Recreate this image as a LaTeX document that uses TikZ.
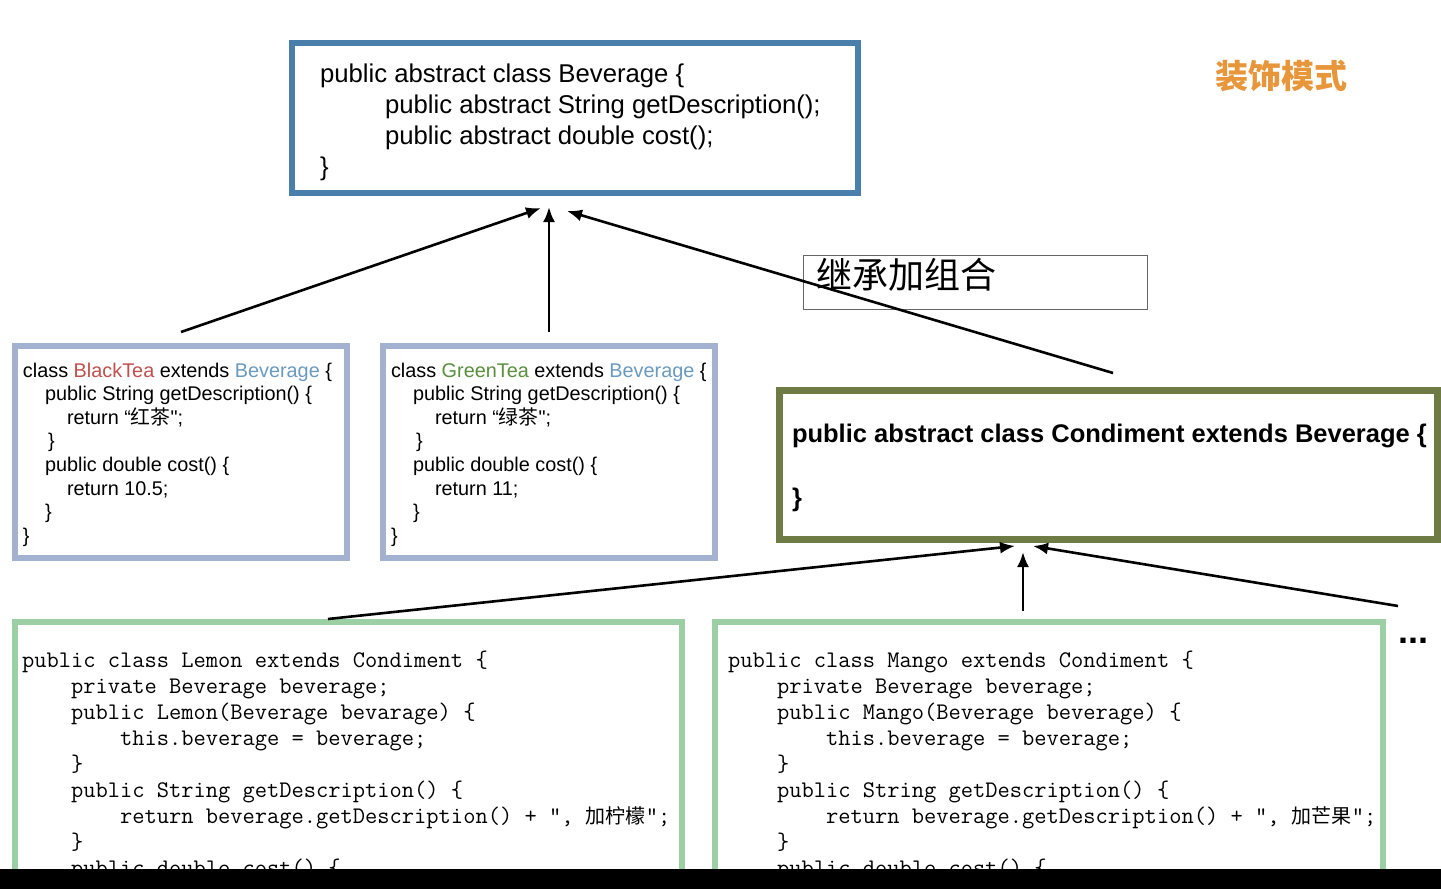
\documentclass[tikz,border=0pt]{standalone}
\usepackage{fontspec}
\setmainfont{Liberation Sans}
\newfontfamily\cjk{Noto Sans CJK SC}
\usetikzlibrary{arrows.meta}
\definecolor{topblue}{HTML}{4A7EAB}
\definecolor{teablue}{HTML}{A3B2D0}
\definecolor{olive}{HTML}{6E7B44}
\definecolor{mint}{HTML}{9CCFA4}
\definecolor{orangeT}{HTML}{E8963A}
\definecolor{redT}{HTML}{C0504D}
\definecolor{greenT}{HTML}{5A8F3E}
\definecolor{blueT}{HTML}{6A9AC0}
\newcommand\cn[1]{{\cjk #1}}
\newcommand\ind[1]{\hspace*{#1pt}}
\newcommand\sq{{\addfontfeatures{Ligatures=TeXOff}"}}
\tikzset{
  boxline/.style={draw, line width=6pt, fill=white},
  codetext/.style={anchor=base west, inner sep=0pt, outer sep=0pt},
  inh/.style={line width=2.6pt, -{Latex[length=15pt,width=12pt]}},
}
\begin{document}
\begin{tikzpicture}[x=1pt,y=-1pt]
\useasboundingbox (0,0) rectangle (1441,889);
\fill[white] (0,0) rectangle (1441,889);

% top abstract class
\draw[boxline, draw=topblue] (292,43) rectangle (858,193);
\node[codetext, font=\fontsize{25.7}{31}\selectfont] (bev) at (320,82)
 {\begin{tabular}[t]{@{}l@{}}
 public abstract class Beverage \{\\
 \ind{65}public abstract String getDescription();\\
 \ind{65}public abstract double cost();\\
 \}
 \end{tabular}};

% title
\node[codetext, font=\cjk\bfseries\fontsize{33}{33}\selectfont, text=orangeT] (title) at (1215,88) {装饰模式};

% label box
\draw[gray!80!black, line width=1pt] (803,255) rectangle (1147,309);
\node[codetext, font=\cjk\fontsize{36}{36}\selectfont] (lbl) at (816,288) {继承加组合};

% tea boxes
\draw[boxline, draw=teablue] (15,346) rectangle (347,558);
\node[codetext, font=\fontsize{19.85}{23.6}\selectfont] (black) at (23,377)
 {\begin{tabular}[t]{@{}l@{}}
 class \textcolor{redT}{BlackTea} extends \textcolor{blueT}{Beverage} \{\\
 \ind{22}public String getDescription() \{\\
 \ind{44}return “\cn{红茶}\sq;\\
 \ind{25}\}\\
 \ind{22}public double cost() \{\\
 \ind{44}return 10.5;\\
 \ind{22}\}\\
 \}
 \end{tabular}};

\draw[boxline, draw=teablue] (383,346) rectangle (715,558);
\node[codetext, font=\fontsize{19.85}{23.6}\selectfont] (green) at (391,377)
 {\begin{tabular}[t]{@{}l@{}}
 class \textcolor{greenT}{GreenTea} extends \textcolor{blueT}{Beverage} \{\\
 \ind{22}public String getDescription() \{\\
 \ind{44}return “\cn{绿茶}\sq;\\
 \ind{25}\}\\
 \ind{22}public double cost() \{\\
 \ind{44}return 11;\\
 \ind{22}\}\\
 \}
 \end{tabular}};

% condiment
\draw[boxline, draw=olive, line width=7pt] (779.5,390.5) rectangle (1437.5,539.5);
\node[codetext, font=\bfseries\fontsize{25.5}{25.5}\selectfont] (cond) at (792,442)
 {public abstract class Condiment extends Beverage \{};
\node[codetext, font=\bfseries\fontsize{25.5}{25.5}\selectfont] (condend) at (792,506) {\}};

% lemon / mango
\draw[boxline, draw=mint] (15,622) rectangle (682,905);
\node[codetext, font=\ttfamily\fontsize{23.8}{26}\selectfont] (lemon) at (22,667)
 {\begin{tabular}[t]{@{}l@{}}
 public class Lemon extends Condiment \{\\
 \phantom{xxxx}private Beverage beverage;\\
 \phantom{xxxx}public Lemon(Beverage bevarage) \{\\
 \phantom{xxxxxxxx}this.beverage = beverage;\\
 \phantom{xxxx}\}\\
 \phantom{xxxx}public String getDescription() \{\\
 \phantom{xxxxxxxx}return beverage.getDescription() + “, {\cjk\fontsize{20}{20}\selectfont 加柠檬}";\\
 \phantom{xxxx}\}\\
 \phantom{xxxx}public double cost() \{
 \end{tabular}};

\draw[boxline, draw=mint] (715,622) rectangle (1383,905);
\node[codetext, font=\ttfamily\fontsize{23.8}{26}\selectfont] (mango) at (728,667)
 {\begin{tabular}[t]{@{}l@{}}
 public class Mango extends Condiment \{\\
 \phantom{xxxx}private Beverage beverage;\\
 \phantom{xxxx}public Mango(Beverage beverage) \{\\
 \phantom{xxxxxxxx}this.beverage = beverage;\\
 \phantom{xxxx}\}\\
 \phantom{xxxx}public String getDescription() \{\\
 \phantom{xxxxxxxx}return beverage.getDescription() + ", {\cjk\fontsize{20}{20}\selectfont 加芒果}";\\
 \phantom{xxxx}\}\\
 \phantom{xxxx}public double cost() \{
 \end{tabular}};

\node[codetext, font=\bfseries\fontsize{36}{36}\selectfont] (dots) at (1398,643) {...};

% connector end points
\coordinate (a1s) at (181,332); \coordinate (a1e) at (541,208);
\coordinate (a2s) at (549,332); \coordinate (a2e) at (549,207);
\coordinate (a3s) at (1113,373); \coordinate (a3e) at (567,211);
\coordinate (b1s) at (328,619); \coordinate (b1e) at (1015,546);
\coordinate (b2s) at (1023,611); \coordinate (b2e) at (1023,552);
\coordinate (b3s) at (1398,606); \coordinate (b3e) at (1033,546);
\draw[inh] (a1s) -- (a1e);
\draw[inh] (a2s) -- (a2e);
\draw[inh] (a3s) -- (a3e);
\draw[inh] (b1s) -- (b1e);
\draw[inh] (b2s) -- (b2e);
\draw[inh] (b3s) -- (b3e);

% bottom band
\fill[black] (0,869) rectangle (1441,889);
\end{tikzpicture}
\end{document}
